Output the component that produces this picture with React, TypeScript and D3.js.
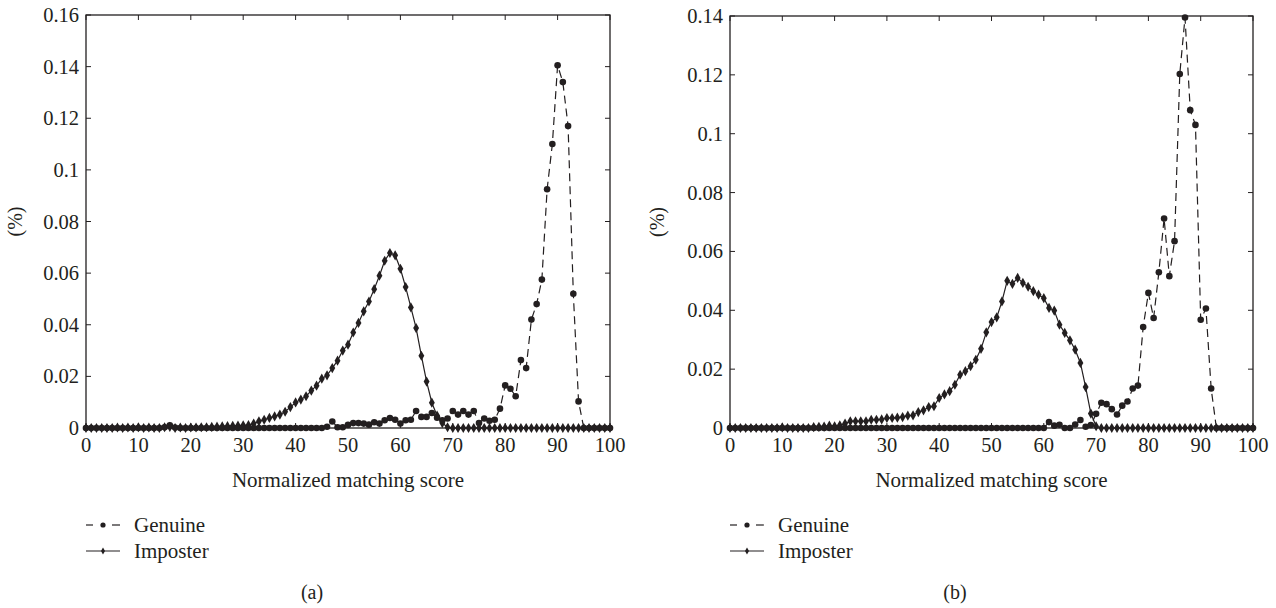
import * as d3 from "d3";

// score bins 0..100
const scores = d3.range(0, 101);

// panel (a)
const genuineA = [
  0, 0, 0, 0, 0, 0, 0, 0, 0, 0,
  0, 0, 0, 0, 0, 0.0003, 0.001, 0.0002, 0, 0,
  0, 0, 0, 0, 0, 0, 0, 0, 0, 0,
  0, 0, 0, 0, 0, 0, 0, 0, 0, 0,
  0, 0, 0, 0, 0, 0, 0.0005, 0.0025, 0.0003, 0.0003,
  0.0012, 0.0019, 0.0019, 0.0017, 0.0013, 0.0022, 0.0017, 0.003, 0.0039, 0.0032,
  0.0017, 0.003, 0.0032, 0.0066, 0.0043, 0.0043, 0.0058, 0.004, 0.003, 0.0037,
  0.0066, 0.0052, 0.0066, 0.0052, 0.0066, 0.0019, 0.0037, 0.0028, 0.0032, 0.0075,
  0.0165, 0.0152, 0.0123, 0.0263, 0.0232, 0.042, 0.048, 0.0575, 0.0925, 0.11,
  0.1405, 0.134, 0.117, 0.052, 0.0103, 0, 0, 0, 0, 0,
  0,
];
const imposterA = [
  0, 0, 0, 0, 0, 0, 0.0002, 0, 0.0002, 0,
  0.0003, 0, 0.0002, 0, 0, 0.0003, 0.0004, 0, 0.0002, 0,
  0.0002, 0.0002, 0.0003, 0.0003, 0.0004, 0.0005, 0.0006, 0.0007, 0.0008, 0.0009,
  0.001, 0.0011, 0.0017, 0.0026, 0.0032, 0.0039, 0.0045, 0.0052, 0.0063, 0.0081,
  0.0099, 0.011, 0.0123, 0.0145, 0.0164, 0.0191, 0.0204, 0.0232, 0.0261, 0.03,
  0.0323, 0.037, 0.0407, 0.0452, 0.049, 0.0538, 0.059, 0.0648, 0.0678, 0.0669,
  0.0617, 0.0546, 0.0467, 0.0387, 0.028, 0.018, 0.0098, 0.0048, 0.0019, 0.0003,
  0, 0, 0, 0, 0, 0, 0, 0, 0, 0,
  0, 0, 0, 0, 0, 0, 0, 0, 0, 0,
  0, 0, 0, 0, 0, 0, 0, 0, 0, 0,
  0,
];

// panel (b)
const genuineB = [
  0, 0, 0, 0, 0, 0, 0, 0, 0, 0,
  0, 0, 0, 0, 0, 0, 0, 0, 0, 0,
  0, 0, 0, 0, 0, 0, 0, 0, 0, 0,
  0, 0, 0, 0, 0, 0, 0, 0, 0, 0,
  0, 0, 0, 0, 0, 0, 0, 0, 0, 0,
  0, 0, 0, 0, 0, 0, 0, 0, 0, 0,
  0, 0.002, 0.0008, 0.0011, 0, 0, 0.0012, 0.0027, 0.0004, 0.001,
  0.0048, 0.0086, 0.0081, 0.0064, 0.0046, 0.0076, 0.009, 0.0134, 0.0144, 0.0343,
  0.0459, 0.0374, 0.0529, 0.0712, 0.0516, 0.0635, 0.1203, 0.1395, 0.108, 0.103,
  0.0368, 0.0406, 0.0134, 0, 0, 0, 0, 0, 0, 0,
  0,
];
const imposterB = [
  0, 0, 0, 0, 0, 0, 0, 0, 0, 0,
  0.0002, 0, 0, 0, 0, 0, 0.0003, 0.0004, 0.0005, 0.0008,
  0.0006, 0.0009, 0.0015, 0.0023, 0.0023, 0.0023, 0.0023, 0.0028, 0.0028, 0.0029,
  0.0034, 0.0034, 0.0035, 0.0037, 0.0042, 0.0043, 0.0054, 0.006, 0.0071, 0.0074,
  0.0102, 0.0114, 0.0125, 0.0147, 0.0181, 0.0193, 0.021, 0.0232, 0.0269, 0.0325,
  0.036, 0.0376, 0.043, 0.05, 0.049, 0.051, 0.0493, 0.048, 0.0465, 0.0453,
  0.0441, 0.0408, 0.0399, 0.0351, 0.0323, 0.0298, 0.0266, 0.0221, 0.0139, 0.0049,
  0.0006, 0, 0, 0, 0, 0, 0, 0, 0, 0,
  0, 0, 0, 0, 0, 0, 0, 0, 0, 0,
  0, 0, 0, 0, 0, 0, 0, 0, 0, 0,
  0,
];

const xTicks = [0, 10, 20, 30, 40, 50, 60, 70, 80, 90, 100];
const yTicksA = [0, 0.02, 0.04, 0.06, 0.08, 0.1, 0.12, 0.14, 0.16];
const yTicksB = [0, 0.02, 0.04, 0.06, 0.08, 0.1, 0.12, 0.14];

const INK = "#231f20";
const FONT = "'Liberation Serif', 'Times New Roman', serif";
const diamond = d3.symbol().type(d3.symbolDiamond).size(30)();

const fmt = (d: number) => String(+d.toFixed(2));

type PanelProps = {
  left: number;
  right: number;
  top: number;
  bottom: number;
  yMax: number;
  yTicks: number[];
  genuine: number[];
  imposter: number[];
  yLabelX: number;
  captionX: number;
  tag: string;
};

function Panel(p: PanelProps) {
  const x = d3.scaleLinear().domain([0, 100]).range([p.left, p.right]);
  const y = d3.scaleLinear().domain([0, p.yMax]).range([p.bottom, p.top]);
  const line = d3
    .line<number>()
    .x((_, i) => x(scores[i]))
    .y((d) => y(d));
  const tk = 5;
  const legY = [525, 551];

  return (
    <g>
      {/* frame */}
      <rect
        x={p.left}
        y={p.top}
        width={p.right - p.left}
        height={p.bottom - p.top}
        fill="none"
        stroke={INK}
        strokeWidth={1.3}
      />
      {xTicks.map((t) => (
        <g key={"x" + t}>
          <line x1={x(t)} x2={x(t)} y1={p.bottom} y2={p.bottom - tk} stroke={INK} />
          <line x1={x(t)} x2={x(t)} y1={p.top} y2={p.top + tk} stroke={INK} />
          <text
            x={x(t)}
            y={p.bottom + 24}
            textAnchor="middle"
            fontSize={20.5}
            fontFamily={FONT}
            fill={INK}
          >
            {t}
          </text>
        </g>
      ))}
      {p.yTicks.map((t) => (
        <g key={"y" + t}>
          <line x1={p.left} x2={p.left + tk} y1={y(t)} y2={y(t)} stroke={INK} />
          <line x1={p.right} x2={p.right - tk} y1={y(t)} y2={y(t)} stroke={INK} />
          <text
            x={p.left - 7}
            y={y(t) + 7}
            textAnchor="end"
            fontSize={20.5}
            fontFamily={FONT}
            fill={INK}
          >
            {fmt(t)}
          </text>
        </g>
      ))}
      <text
        transform={`translate(${p.yLabelX},${(p.top + p.bottom) / 2}) rotate(-90)`}
        textAnchor="middle"
        fontSize={20}
        fontFamily={FONT}
        fill={INK}
      >
        (%)
      </text>
      <text
        x={(p.left + p.right) / 2}
        y={487}
        textAnchor="middle"
        fontSize={21}
        fontFamily={FONT}
        fill={INK}
      >
        Normalized matching score
      </text>

      {/* imposter */}
      <path d={line(p.imposter) || ""} fill="none" stroke={INK} strokeWidth={1.2} />
      {p.imposter.map((v, i) => (
        <path
          key={"i" + i}
          d={diamond}
          transform={`translate(${x(scores[i])},${y(v)})`}
          fill={INK}
        />
      ))}
      {/* genuine */}
      <path
        d={line(p.genuine) || ""}
        fill="none"
        stroke={INK}
        strokeWidth={1.2}
        strokeDasharray="8,5"
      />
      {p.genuine.map((v, i) => (
        <circle key={"g" + i} cx={x(scores[i])} cy={y(v)} r={3.3} fill={INK} />
      ))}

      {/* legend */}
      <line x1={p.left} x2={p.left + 7} y1={legY[0]} y2={legY[0]} stroke={INK} strokeWidth={1.2} />
      <line x1={p.left + 26} x2={p.left + 34} y1={legY[0]} y2={legY[0]} stroke={INK} strokeWidth={1.2} />
      <circle cx={p.left + 17} cy={legY[0]} r={2.6} fill={INK} />
      <text x={p.left + 48} y={legY[0] + 7} fontSize={21} fontFamily={FONT} fill={INK}>
        Genuine
      </text>
      <line x1={p.left} x2={p.left + 34} y1={legY[1]} y2={legY[1]} stroke={INK} strokeWidth={1.2} />
      <path
        d={d3.symbol().type(d3.symbolDiamond).size(14)() || ""}
        transform={`translate(${p.left + 17},${legY[1]})`}
        fill={INK}
      />
      <text x={p.left + 48} y={legY[1] + 7} fontSize={21} fontFamily={FONT} fill={INK}>
        Imposter
      </text>

      <text
        x={p.captionX}
        y={599}
        textAnchor="middle"
        fontSize={20}
        fontFamily={FONT}
        fill={INK}
      >
        {p.tag}
      </text>
    </g>
  );
}

export default function App() {
  return (
    <svg
      width={1276}
      height={608}
      style={{ position: "absolute", left: 0, top: 0, background: "#fff" }}
    >
      <Panel
        left={86}
        right={610}
        top={15}
        bottom={428}
        yMax={0.16}
        yTicks={yTicksA}
        genuine={genuineA}
        imposter={imposterA}
        yLabelX={22}
        captionX={312}
        tag="(a)"
      />
      <Panel
        left={730}
        right={1253}
        top={16}
        bottom={428}
        yMax={0.14}
        yTicks={yTicksB}
        genuine={genuineB}
        imposter={imposterB}
        yLabelX={664}
        captionX={955}
        tag="(b)"
      />
    </svg>
  );
}
